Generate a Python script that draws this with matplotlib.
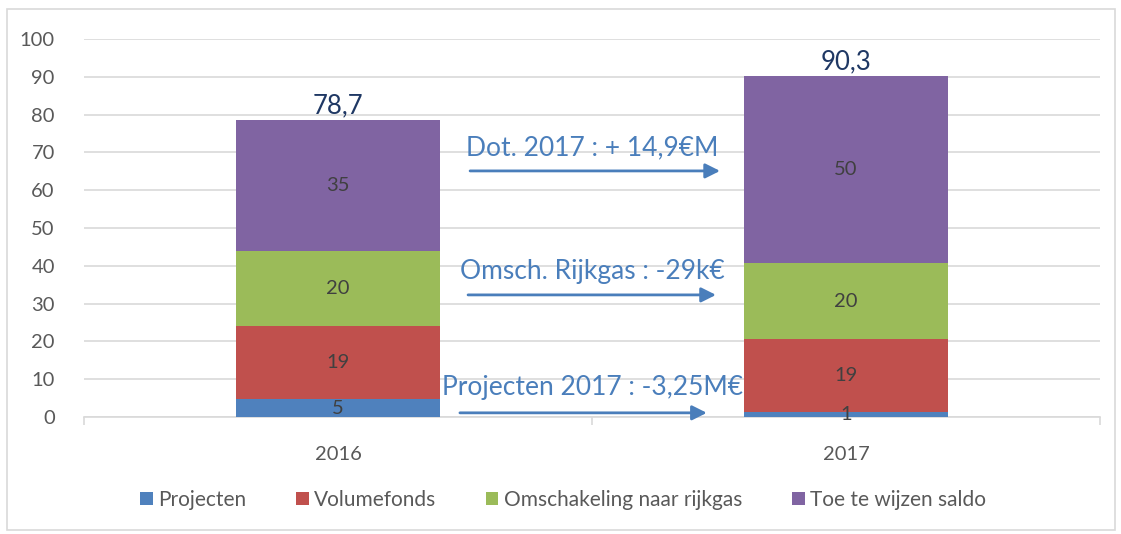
import matplotlib
matplotlib.use("Agg")
import matplotlib.pyplot as plt
from matplotlib.patches import Rectangle

plt.rcParams['font.family'] = ['Lato', 'DejaVu Sans']

years = ["2016", "2017"]
series_names = ["Projecten", "Volumefonds", "Omschakeling naar rijkgas", "Toe te wijzen saldo"]
projecten = [4.75, 1.4]
volumefonds = [19.2, 19.3]
omschakeling = [20.0, 19.97]
toe_te_wijzen = [34.75, 49.63]
totals = ["78,7", "90,3"]
colors = ["#4F81BD", "#C0504D", "#9BBB59", "#8064A2"]
annotations = ["Dot. 2017 : + 14,9€M", "Omsch. Rijkgas : -29k€", "Projecten 2017 : -3,25M€"]
annot_text_y = [71.2, 38.4, 7.7]
annot_arrow_y = [65.1, 32.3, 1.1]
annot_arrow_x = [(0.26, 0.752), (0.256, 0.744), (0.24, 0.726)]
yticks = [0, 10, 20, 30, 40, 50, 60, 70, 80, 90, 100]

W, H = 1121, 534
fig = plt.figure(figsize=(W / 100, H / 100), dpi=100)
ax = fig.add_axes([84 / W, 1 - 417 / H, (1100 - 84) / W, (417 - 39) / H])

# outer border
fig.patches.append(Rectangle((7 / W, 4 / H), (1115 - 7) / W, (525 - 4) / H,
                             transform=fig.transFigure, fill=False,
                             edgecolor="#D9D9D9", linewidth=1.2))

x = list(range(len(years)))
bottom = [0.0] * len(years)
data = [projecten, volumefonds, omschakeling, toe_te_wijzen]
for vals, name, c in zip(data, series_names, colors):
    ax.bar(x, vals, width=0.4, bottom=bottom, color=c, label=name, zorder=3)
    for xi, v, b in zip(x, vals, bottom):
        ax.text(xi, b + v / 2, f"{round(v):d}", ha="center", va="center",
                fontsize=14.5, color="#404040", zorder=4)
    bottom = [b + v for b, v in zip(bottom, vals)]

for xi, tot, t in zip(x, bottom, totals):
    ax.text(xi, tot + 0.4, t, ha="center", va="bottom", fontsize=18.5,
            color="#1F3864", zorder=4)

for txt, ty, ay, (x0, x1) in zip(annotations, annot_text_y, annot_arrow_y, annot_arrow_x):
    ax.text(0.5, ty, txt, ha="center", va="center", fontsize=19,
            color="#4A7EBB", zorder=5)
    ax.annotate("", xy=(x1, ay), xytext=(x0, ay),
                arrowprops=dict(arrowstyle="-|>", color="#4A7EBB", lw=2,
                                mutation_scale=22, shrinkA=0, shrinkB=0),
                zorder=5)

ax.set_xlim(-0.5, 1.5)
ax.set_ylim(0, 100)
ax.set_yticks(yticks)
ax.set_yticklabels([str(v) for v in yticks])
ax.set_xticks(x)
ax.set_xticklabels(years)
ax.set_xticks([-0.5, 0.5, 1.5], minor=True)
ax.tick_params(axis="y", length=0, pad=21, labelsize=14.5, labelcolor="#595959")
ax.tick_params(axis="x", which="major", length=0, pad=21, labelsize=14.5, labelcolor="#595959")
ax.tick_params(axis="x", which="minor", length=6, color="#D9D9D9", width=1.2)
ax.grid(axis="y", color="#D9D9D9", linewidth=1.2, zorder=0)
for s in ["top", "right", "left"]:
    ax.spines[s].set_visible(False)
ax.spines["bottom"].set_color("#D9D9D9")
ax.spines["bottom"].set_linewidth(1.2)

fig.legend(loc="center", bbox_to_anchor=(563 / W, 1 - 500 / H), ncol=4, frameon=False,
           fontsize=15, handlelength=0.6, handleheight=0.6, handletextpad=0.25,
           columnspacing=2.4, labelcolor="#595959")

fig.savefig("out.png", dpi=100)
